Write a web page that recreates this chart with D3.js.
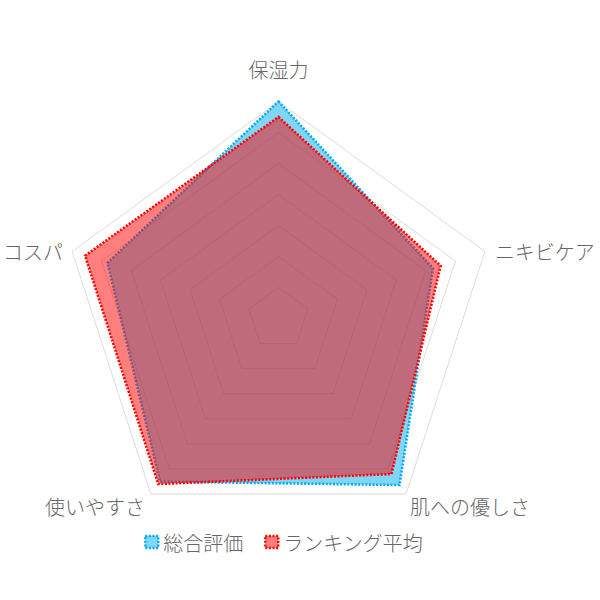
<!DOCTYPE html>
<html>
<head>
<meta charset="utf-8">
<script src="https://cdn.jsdelivr.net/npm/d3@7"></script>
<style>
  body { margin: 0; background: #fff; }
  text { font-family: "Noto Sans CJK JP", "Noto Sans", sans-serif; font-weight: 300; fill: #666; }
</style>
</head>
<body>
<svg id="chart" width="600" height="600"></svg>
<script>
const axes = ['保湿力', 'ニキビケア', '肌への優しさ', '使いやすさ', 'コスパ'];
const seriesNames = ['総合評価', 'ランキング平均'];
const overall = [5.0, 4.12, 4.82, 4.75, 4.4];
const rankAvg = [4.75, 4.25, 4.6, 4.8, 4.78];
const ticks = [1.5, 2, 2.5, 3, 3.5, 4, 4.5, 5];

const cx = 278.5, cy = 318.5, R = 217;
const svg = d3.select('#chart');

const r = d3.scaleLinear().domain([1.5, 5]).range([0, R]);
const ang = d3.scalePoint().domain(axes).range([0, 2 * Math.PI * (axes.length - 1) / axes.length]);

function pt(name, v) {
  const a = ang(name) - Math.PI / 2;
  return [cx + r(v) * Math.cos(a), cy + r(v) * Math.sin(a)];
}

const line = d3.line().curve(d3.curveLinearClosed);

// grid rings
svg.append('g').selectAll('path')
  .data(ticks.slice(1))
  .join('path')
  .attr('d', t => line(axes.map(a => pt(a, t))))
  .attr('fill', 'none')
  .attr('stroke', 'rgba(0,0,0,0.14)')
  .attr('stroke-width', 1);

const series = [
  { name: seriesNames[0], values: overall, fill: 'rgba(0,174,239,0.5)', stroke: 'rgb(0,170,240)' },
  { name: seriesNames[1], values: rankAvg, fill: 'rgba(255,0,0,0.5)', stroke: 'rgb(255,0,0)' }
];

svg.append('g').selectAll('path')
  .data(series)
  .join('path')
  .attr('d', s => line(axes.map((a, i) => pt(a, s.values[i]))))
  .attr('fill', s => s.fill)
  .attr('stroke', s => s.stroke)
  .attr('stroke-width', 2.6)
  .attr('stroke-dasharray', '2,1.6');

// axis labels
const labelPos = {
  '保湿力': { anchor: 'middle', dx: 0, dy: -32 },
  'ニキビケア': { anchor: 'start', dx: 10, dy: 0 },
  '肌への優しさ': { anchor: 'start', dx: 4, dy: 12 },
  '使いやすさ': { anchor: 'end', dx: -6, dy: 12 },
  'コスパ': { anchor: 'end', dx: -9, dy: 0 }
};
svg.append('g').selectAll('text')
  .data(axes)
  .join('text')
  .attr('x', a => pt(a, 5)[0] + labelPos[a].dx)
  .attr('y', a => pt(a, 5)[1] + labelPos[a].dy)
  .attr('text-anchor', a => labelPos[a].anchor)
  .attr('dominant-baseline', 'central')
  .attr('font-size', 20)
  .text(d => d);

// legend
const lg = svg.append('g');
const items = lg.selectAll('g').data(series).join('g');
items.append('rect')
  .attr('x', 1).attr('y', -6).attr('width', 13).attr('height', 12)
  .attr('fill', s => s.fill)
  .attr('stroke', s => s.stroke)
  .attr('stroke-width', 2.4)
  .attr('stroke-dasharray', '2,1.6');
items.append('text')
  .attr('x', 19)
  .attr('dominant-baseline', 'central')
  .attr('font-size', 20)
  .text(s => s.name);
let x = 0;
const widths = [];
items.each(function () { widths.push(this.getBBox().width); });
items.attr('transform', (s, i) => {
  const t = `translate(${x},0)`;
  x += widths[i] + 22;
  return t;
});
const total = x - 22;
lg.attr('transform', `translate(${283 - total / 2},542)`);
</script>
</body>
</html>
